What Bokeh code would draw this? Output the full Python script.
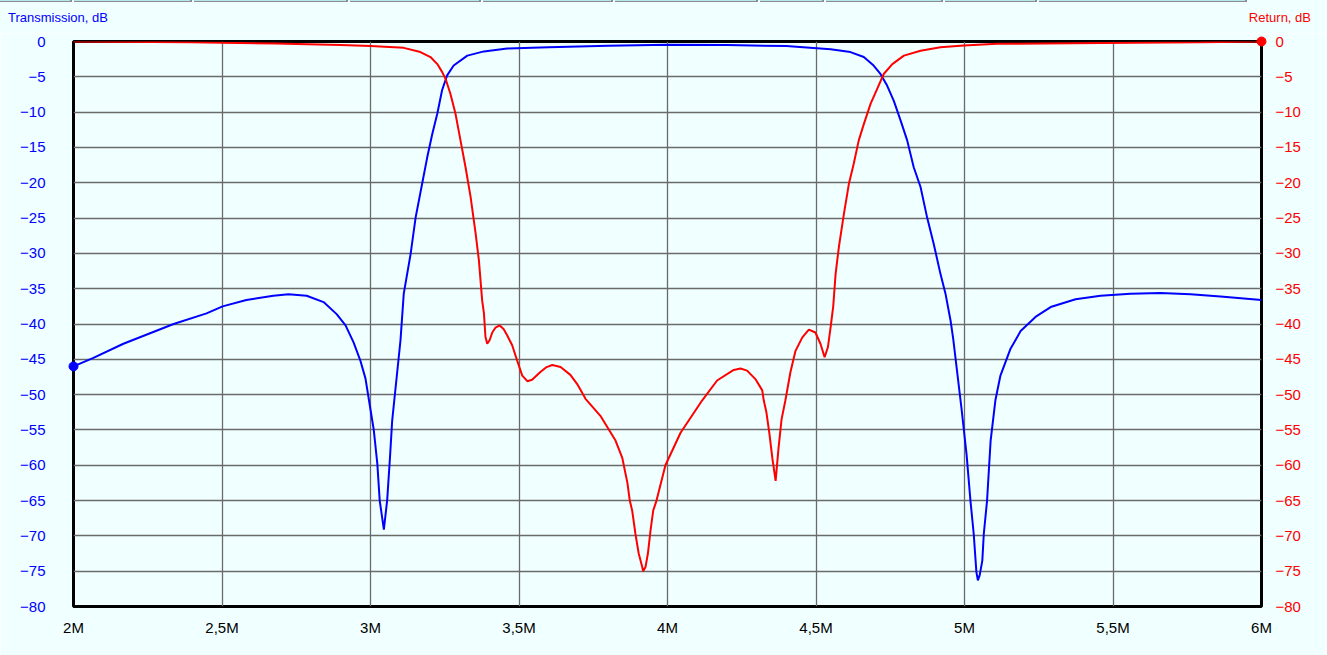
from bokeh.plotting import figure
from bokeh.models import LinearAxis, FixedTicker, Range1d, Div
from bokeh.layouts import column
from bokeh.embed import file_html
from bokeh.resources import INLINE

# Frequencies in MHz
freq_trans = [2.000, 2.067, 2.168, 2.337, 2.448, 2.502, 2.582, 2.673, 2.724, 2.785,
              2.842, 2.886, 2.916, 2.943, 2.966, 2.983, 3.006, 3.011, 3.023, 3.031,
              3.045, 3.056, 3.065, 3.073, 3.101, 3.112, 3.135, 3.152, 3.174, 3.191,
              3.208, 3.225, 3.241, 3.258, 3.280, 3.326, 3.382, 3.460, 3.600, 3.800,
              4.000, 4.200, 4.400, 4.549, 4.616, 4.661, 4.694, 4.717, 4.739, 4.762,
              4.785, 4.807, 4.829, 4.852, 4.874, 4.896, 4.919, 4.936, 4.953, 4.962,
              4.990, 5.007, 5.020, 5.031, 5.040, 5.045, 5.051, 5.060, 5.065, 5.076,
              5.088, 5.104, 5.121, 5.155, 5.189, 5.239, 5.290, 5.374, 5.458, 5.559,
              5.660, 5.761, 5.862, 6.000]
transmission_db = [-46.0, -44.8, -42.8, -40.0, -38.5, -37.5, -36.6, -36.0, -35.8, -36.0,
                   -36.9, -38.6, -40.2, -42.6, -45.2, -47.7, -53.7, -55.0, -59.8, -65.0,
                   -69.1, -65.0, -59.3, -53.7, -42.3, -35.7, -30.1, -24.9, -20.1, -16.4,
                   -13.1, -10.2, -6.9, -4.8, -3.4, -2.0, -1.4, -1.0, -0.8, -0.6,
                   -0.45, -0.5, -0.65, -1.1, -1.5, -2.2, -3.4, -4.6, -6.2, -8.4,
                   -11.2, -14.0, -17.8, -20.6, -24.9, -28.6, -32.9, -35.7, -39.5, -42.1,
                   -52.0, -58.5, -65.0, -69.7, -75.1, -76.3, -75.6, -73.5, -69.7, -65.0,
                   -56.5, -50.8, -47.3, -43.5, -41.0, -39.0, -37.6, -36.5, -36.0, -35.7,
                   -35.6, -35.8, -36.1, -36.6]

freq_return = [2.000, 2.394, 2.680, 2.899, 3.000, 3.112, 3.168, 3.202, 3.225, 3.241,
               3.253, 3.269, 3.286, 3.303, 3.320, 3.337, 3.354, 3.365, 3.376, 3.382,
               3.387, 3.393, 3.401, 3.410, 3.421, 3.435, 3.448, 3.460, 3.477, 3.494,
               3.511, 3.528, 3.544, 3.572, 3.593, 3.612, 3.640, 3.673, 3.696, 3.724,
               3.774, 3.825, 3.848, 3.865, 3.873, 3.881, 3.892, 3.903, 3.915, 3.918,
               3.926, 3.934, 3.943, 3.952, 3.963, 3.993, 4.044, 4.117, 4.167, 4.223,
               4.246, 4.268, 4.296, 4.319, 4.324, 4.333, 4.343, 4.353, 4.364, 4.374,
               4.384, 4.397, 4.414, 4.431, 4.454, 4.476, 4.498, 4.515, 4.529, 4.540,
               4.549, 4.558, 4.566, 4.577, 4.594, 4.611, 4.627, 4.644, 4.661, 4.684,
               4.706, 4.728, 4.757, 4.796, 4.852, 4.919, 4.998, 5.110, 5.458, 5.795,
               6.000]
return_db = [0.0, -0.1, -0.3, -0.5, -0.65, -0.9, -1.5, -2.2, -3.2, -4.3,
             -5.3, -7.4, -10.2, -14.0, -17.8, -22.0, -27.2, -31.0, -36.7, -38.5,
             -41.8, -42.8, -42.3, -41.2, -40.5, -40.2, -40.7, -41.6, -43.0, -45.2,
             -47.3, -48.1, -47.9, -46.8, -46.1, -45.8, -46.1, -47.2, -48.5, -50.6,
             -53.0, -56.5, -59.0, -62.5, -65.0, -66.4, -69.7, -72.5, -74.4, -75.0,
             -74.4, -72.5, -69.2, -66.4, -65.0, -60.0, -55.4, -50.8, -48.0, -46.5,
             -46.3, -46.6, -47.8, -49.4, -50.8, -52.5, -55.5, -59.0, -62.2, -57.5,
             -53.5, -50.8, -46.8, -43.8, -41.9, -40.8, -41.2, -42.8, -44.7, -43.3,
             -40.5, -37.5, -32.9, -29.1, -24.4, -20.1, -17.3, -14.0, -11.7, -8.8,
             -6.7, -4.6, -3.2, -2.0, -1.3, -0.8, -0.57, -0.33, -0.2, -0.1,
             0.0]

x_ticks = [2.0, 2.5, 3.0, 3.5, 4.0, 4.5, 5.0, 5.5, 6.0]
x_tick_labels = ["2M", "2,5M", "3M", "3,5M", "4M", "4,5M", "5M", "5,5M", "6M"]
y_ticks = [0, -5, -10, -15, -20, -25, -30, -35, -40, -45, -50, -55, -60, -65, -70, -75, -80]
left_title = "Transmission, dB"
right_title = "Return, dB"

FONT = "Liberation Sans"
BG = "#F0FFFF"

p = figure(frame_width=1188, frame_height=565,
           min_border_left=73, min_border_right=66, min_border_top=8, min_border_bottom=49,
           x_range=Range1d(2, 6), y_range=Range1d(-80, 0),
           output_backend="svg", toolbar_location=None, y_axis_location=None,
           margin=0)
p.background_fill_color = BG
p.border_fill_color = BG
p.outline_line_color = "black"
p.outline_line_width = 3

p.xgrid.ticker = FixedTicker(ticks=x_ticks)
p.ygrid.ticker = FixedTicker(ticks=y_ticks)
p.grid.grid_line_color = "#6A6A6A"
p.grid.grid_line_width = 1.3

xa = p.xaxis[0]
xa.ticker = FixedTicker(ticks=x_ticks)
xa.major_label_overrides = {t: l for t, l in zip(x_ticks, x_tick_labels)}
xa.axis_line_color = None
xa.major_tick_line_color = None
xa.minor_tick_line_color = None
xa.major_label_standoff = 6
xa.major_label_text_font = FONT
xa.major_label_text_font_size = "15px"
xa.major_label_text_color = "black"

left = LinearAxis(ticker=FixedTicker(ticks=y_ticks), axis_line_color=None,
                  major_tick_line_color=None, minor_tick_line_color=None,
                  major_label_standoff=22, major_label_text_font=FONT,
                  major_label_text_font_size="15px", major_label_text_color="blue")
right = LinearAxis(ticker=FixedTicker(ticks=y_ticks), axis_line_color=None,
                   major_tick_line_color=None, minor_tick_line_color=None,
                   major_label_standoff=8, major_label_text_font=FONT,
                   major_label_text_font_size="15px", major_label_text_color="red")
p.add_layout(left, "left")
p.add_layout(right, "right")

p.line(freq_trans, transmission_db, line_color="blue", line_width=2)
p.line(freq_return, return_db, line_color="red", line_width=2)
m1 = p.scatter([freq_trans[0]], [transmission_db[0]], size=9, color="blue", level="overlay")
m2 = p.scatter([freq_return[-1]], [return_db[-1]], size=9, color="red", level="overlay")
for m in (m1, m2):
    if "clip" in m.properties():
        m.clip = False

# thin strip of tab-like boxes at the very top of the window
tab_edges = [0, 72, 192, 348, 481, 613, 758, 824, 943, 1037, 1247]
tabs = "".join(
    f'<div style="position:absolute;left:{a + (2 if i else 0)}px;top:0;'
    f'width:{b - a - (2 if i else 0)}px;height:2px;background:#B4E6EE;'
    f'border-right:2px solid #8C8C8C;border-bottom:1px solid #8C8C8C;"></div>'
    for i, (a, b) in enumerate(zip(tab_edges[:-1], tab_edges[1:]))
)

header_html = (
    f'<div style="position:relative;width:1327px;height:33px;background:{BG};'
    f'font-family:\'{FONT}\';font-size:13px;">'
    f'{tabs}'
    f'<span style="position:absolute;left:8px;top:9px;color:blue;">{left_title}</span>'
    f'<span style="position:absolute;right:16px;top:9px;color:red;">{right_title}</span>'
    '</div>'
)
header = Div(text=header_html, width=1327, height=33, margin=0)

layout = column(header, p, spacing=0, margin=0)
open("out.html", "w").write(file_html(layout, INLINE))
